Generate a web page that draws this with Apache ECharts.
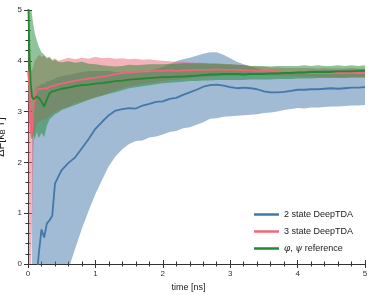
<!DOCTYPE html>
<html><head><meta charset="utf-8">
<script src="https://cdn.jsdelivr.net/npm/echarts@6/dist/echarts.min.js"></script>
<style>html,body{margin:0;padding:0;background:#fff}#c{width:374px;height:295px}</style>
</head><body><div id="c"></div>
<script>
const time = [0,0.02,0.04,0.06,0.08,0.1,0.13,0.16,0.2,0.24,0.28,0.32,0.36,0.4,0.45,0.5,
 0.6,0.7,0.8,0.9,1.0,1.1,1.2,1.3,1.4,1.5,1.6,1.7,1.8,1.9,2.0,2.1,2.2,2.3,2.4,2.5,2.6,2.7,2.8,2.9,
 3.0,3.1,3.2,3.3,3.4,3.5,3.6,3.7,3.8,3.9,4.0,4.1,4.2,4.3,4.4,4.5,4.6,4.7,4.8,4.9,5.0];

const blueMean = [null,null,null,null,null,-0.6,-0.25,0.2,0.68,0.52,0.8,0.86,0.95,1.58,1.72,1.85,
 1.99,2.1,2.28,2.46,2.66,2.8,2.93,3.02,3.05,3.07,3.06,3.12,3.15,3.19,3.2,3.25,3.27,3.33,3.38,3.43,3.49,3.52,3.53,3.51,
 3.48,3.46,3.47,3.46,3.44,3.4,3.38,3.38,3.39,3.41,3.43,3.43,3.44,3.44,3.45,3.46,3.45,3.46,3.47,3.47,3.48];
const blueLow = [null,null,null,-0.5,-0.5,-0.5,-0.5,-0.5,-0.5,-0.5,-0.5,-0.5,-0.5,-0.5,-0.5,-0.3,
 -0.1,0.3,0.7,1.05,1.38,1.66,1.93,2.12,2.26,2.36,2.42,2.43,2.49,2.51,2.55,2.6,2.62,2.67,2.69,2.74,2.79,2.86,2.87,2.9,
 2.91,2.92,2.93,2.94,2.95,2.97,2.98,3.0,3.03,3.05,3.07,3.06,3.08,3.08,3.09,3.1,3.1,3.11,3.12,3.12,3.13];
const blueHigh = [null,null,null,2.8,3.2,3.4,3.5,3.5,3.55,3.55,3.6,3.6,3.62,3.65,3.68,3.7,
 3.72,3.75,3.78,3.8,3.8,3.8,3.8,3.78,3.77,3.76,3.76,3.78,3.8,3.84,3.88,3.93,3.99,4.03,4.06,4.1,4.14,4.17,4.17,4.12,
 4.05,3.98,3.93,3.89,3.85,3.81,3.79,3.78,3.78,3.79,3.8,3.8,3.81,3.81,3.82,3.82,3.81,3.82,3.83,3.83,3.84];

const redMean = [3.8,3.5,2.6,2.55,3.05,3.3,3.42,3.45,3.44,3.46,3.45,3.49,3.5,3.51,3.54,3.55,
 3.58,3.61,3.63,3.65,3.67,3.69,3.71,3.74,3.76,3.77,3.78,3.79,3.79,3.8,3.8,3.81,3.8,3.81,3.81,3.82,3.82,3.82,3.83,3.82,
 3.82,3.82,3.81,3.81,3.8,3.8,3.8,3.79,3.78,3.78,3.77,3.77,3.76,3.76,3.76,3.76,3.76,3.76,3.76,3.76,3.76];
const redLow = [3.3,-0.5,-0.5,0.8,2.2,2.6,2.75,2.8,2.82,2.85,2.86,2.92,2.96,2.98,3.02,3.06,
 3.1,3.17,3.2,3.25,3.28,3.32,3.36,3.42,3.46,3.5,3.52,3.55,3.56,3.58,3.6,3.62,3.62,3.64,3.65,3.67,3.68,3.68,3.7,3.7,
 3.7,3.71,3.71,3.72,3.72,3.72,3.71,3.71,3.7,3.7,3.69,3.69,3.69,3.68,3.68,3.68,3.68,3.67,3.67,3.67,3.67];
const redHigh = [4.3,4.0,3.85,3.8,3.9,4.0,4.05,4.12,4.08,4.1,4.04,4.06,4.02,4.05,4.0,4.02,
 4.06,4.03,4.06,4.04,4.08,4.05,4.06,4.04,4.05,4.03,4.04,4.02,4.03,4.01,4.0,3.99,3.98,3.98,3.97,3.96,3.96,3.95,3.95,3.94,
 3.93,3.92,3.92,3.9,3.89,3.88,3.87,3.87,3.86,3.86,3.86,3.86,3.86,3.85,3.86,3.85,3.85,3.85,3.86,3.85,3.85];

const greenMean = [5.5,4.2,3.55,3.3,3.24,3.27,3.3,3.27,3.2,3.1,3.24,3.36,3.4,3.41,3.43,3.45,
 3.47,3.5,3.52,3.53,3.55,3.56,3.58,3.6,3.61,3.63,3.64,3.65,3.66,3.67,3.68,3.68,3.69,3.69,3.7,3.71,3.72,3.73,3.73,3.74,
 3.74,3.74,3.73,3.74,3.74,3.74,3.75,3.75,3.76,3.76,3.77,3.77,3.78,3.78,3.78,3.78,3.79,3.79,3.79,3.8,3.8];
const greenLow = [3.6,2.9,2.5,2.45,2.55,2.45,2.6,2.48,2.58,2.5,2.72,2.85,2.9,2.95,2.98,3.03,
 3.08,3.13,3.18,3.23,3.28,3.31,3.35,3.38,3.42,3.46,3.48,3.5,3.52,3.54,3.56,3.57,3.58,3.59,3.6,3.6,3.61,3.61,3.62,3.62,
 3.62,3.62,3.62,3.63,3.63,3.63,3.63,3.64,3.64,3.64,3.65,3.65,3.65,3.66,3.66,3.66,3.66,3.66,3.67,3.67,3.67];
const greenHigh = [6.0,5.4,5.1,4.9,4.7,4.55,4.4,4.28,4.17,4.12,4.06,4.08,4.0,4.02,3.98,3.97,
 3.99,3.96,3.98,3.94,3.93,3.91,3.9,3.89,3.9,3.92,3.91,3.92,3.93,3.93,3.93,3.94,3.94,3.95,3.95,3.95,3.95,3.94,3.94,3.93,
 3.93,3.92,3.91,3.9,3.9,3.9,3.89,3.9,3.9,3.9,3.9,3.91,3.9,3.91,3.9,3.9,3.91,3.9,3.91,3.9,3.91];

const xTicks = [0,1,2,3,4,5];
const yTicks = [0,1,2,3,4,5];
const names = ['2 state DeepTDA','3 state DeepTDA','\u03c6, \u03c8 reference'];
const colors = ['#4477AA','#EE6677','#228833'];

function pairs(arr){ return time.map((t,i)=>[t, arr[i]]); }

const FONT = 'Liberation Sans';
const series = [];
const bands = [[blueLow,blueHigh],[redLow,redHigh],[greenLow,greenHigh]];
bands.forEach((b,k)=>{
  const rows = time.map((t,i)=>[t, b[0][i], b[1][i]]).filter(r=>r[1]!=null && r[2]!=null);
  series.push({
    type:'custom', name:'band'+k, data:rows, encode:{x:0, y:[1,2]}, clip:true, silent:true, z:2,
    renderItem:function(params, api){
      if (params.dataIndex !== 0) return null;
      const up = rows.map(r=>api.coord([r[0], r[2]]));
      const lo = rows.map(r=>api.coord([r[0], r[1]])).reverse();
      return {type:'polygon', shape:{points:up.concat(lo)},
        style:{fill:colors[k], opacity:0.5, stroke:null}};
    }
  });
});
[blueMean, redMean, greenMean].forEach((m,k)=>{
  series.push({type:'line', name:names[k], data:pairs(m), symbol:'none', clip:true,
    lineStyle:{color:colors[k], width:1.8}, itemStyle:{color:colors[k]}, z:3});
});

const axLine = {show:true, lineStyle:{color:'#333', width:1}};
const tick = {show:true, inside:true, length:4, lineStyle:{color:'#333'}};
const mtick = {show:true, splitNumber:5, length:2.5, lineStyle:{color:'#333'}};
const chart = echarts.init(document.getElementById('c'));
chart.setOption({
  animation:false,
  textStyle:{fontFamily:FONT},
  grid:{left:28, right:9, top:10, bottom:31, containLabel:false, outerBoundsMode:'none'},
  legend:{
    data:names, orient:'vertical', right:16, bottom:37, itemGap:8,
    itemWidth:25, itemHeight:2.5, icon:'rect',
    textStyle:{fontFamily:FONT, fontSize:9, color:'#222',
      rich:{i:{fontStyle:'italic', fontFamily:'DejaVu Serif', fontSize:9, color:'#222'}, n:{fontFamily:FONT,fontSize:9, color:'#222'}}},
    formatter:function(n){ return n===names[2] ? '{i|\u03c6}{n|, }{i|\u03c8}{n| reference}' : n; }
  },
  xAxis:[{type:'value', min:0, max:5, interval:1, position:'bottom',
      name:'time [ns]', nameLocation:'middle', nameGap:15,
      nameTextStyle:{fontSize:9, color:'#222', fontFamily:FONT, padding:[0,16,0,0]},
      axisLine:axLine, axisTick:tick, minorTick:mtick,
      axisLabel:{fontSize:8, color:'#333', margin:6}, splitLine:{show:false}},
    {type:'value', min:0, max:5, interval:1, position:'top',
      axisLine:axLine, axisTick:tick, minorTick:mtick,
      axisLabel:{show:false}, splitLine:{show:false}}],
  yAxis:[{type:'value', min:0, max:5, interval:1, position:'left',
      name:'{a|\u0394F[k}{s|B}{a|\u2009T]}', nameLocation:'middle', nameGap:16,
      nameTextStyle:{fontSize:11, color:'#222', fontFamily:FONT,
        rich:{a:{fontSize:11,fontFamily:FONT,color:'#222',lineHeight:13}, s:{fontSize:7.5,fontFamily:FONT,color:'#222',lineHeight:13,padding:[4,0,0,0]}}},
      axisLine:axLine, axisTick:tick, minorTick:mtick,
      axisLabel:{fontSize:8, color:'#333', margin:6}, splitLine:{show:false}},
    {type:'value', min:0, max:5, interval:1, position:'right',
      axisLine:axLine, axisTick:tick, minorTick:mtick,
      axisLabel:{show:false}, splitLine:{show:false}}],
  series: series
});
</script></body></html>
